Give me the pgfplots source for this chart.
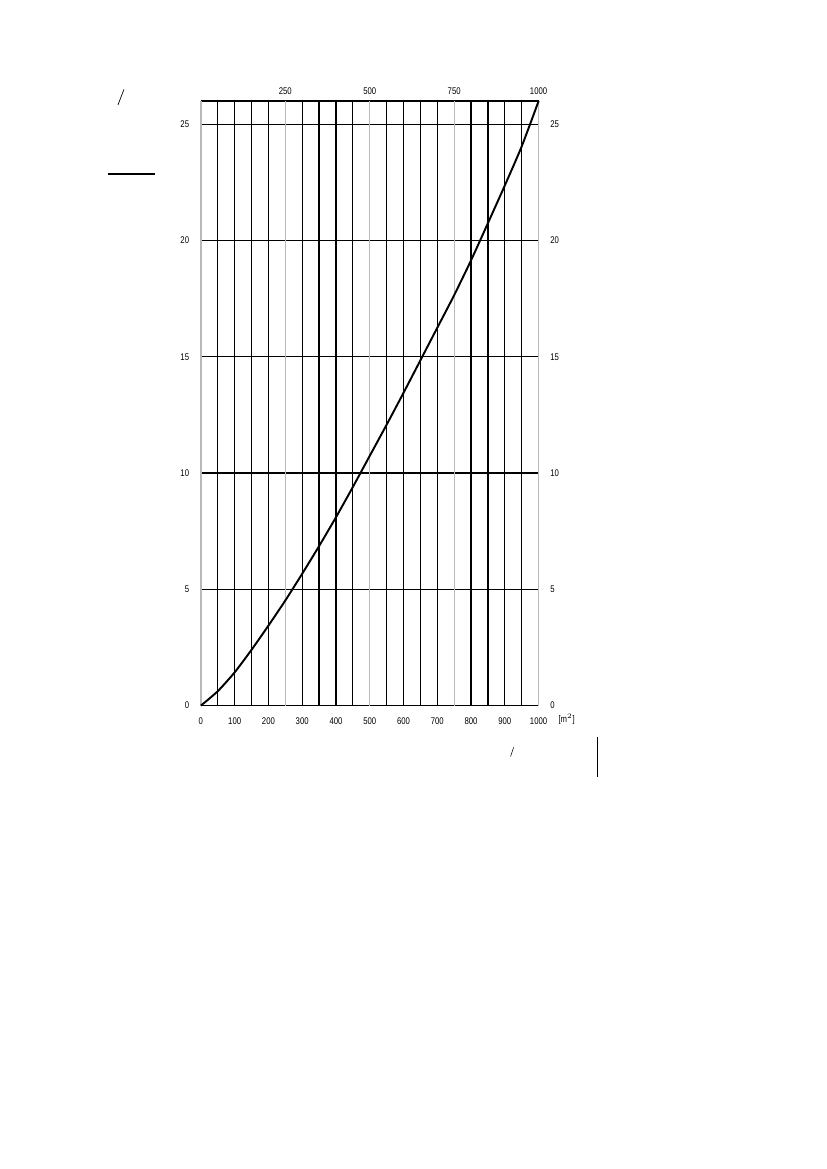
\documentclass[border=0pt]{standalone}
\usepackage{fontspec}
\setmainfont{Liberation Sans}[FakeStretch=0.8]
\usepackage{pgfplots}
\pgfplotsset{compat=1.18}

% curve
\pgfplotstableread{
x     y
0     0
50    0.62
100   1.43
150   2.40
200   3.44
250   4.52
300   5.67
350   6.86
400   8.10
450   9.40
500   10.74
550   12.08
600   13.45
650   14.85
700   16.25
750   17.65
800   19.15
850   20.75
900   22.37
950   24.05
1000  26.0
}\curve

\pgfplotsset{
  base/.style={
    scale only axis,
    width=85.8mm, height=153.6mm,
    xmin=0, xmax=1000, ymin=0, ymax=26,
    major tick length=0pt, minor tick length=0pt,
    tick label style={font=\fontsize{7}{8}\selectfont},
    /pgf/number format/assume math mode=true,
    /pgf/number format/1000 sep={},
  },
}

\begin{document}
\begin{tikzpicture}
\useasboundingbox (0,-297mm) rectangle (210mm,0);

\begin{axis}[base,
    at={(51.04mm,-179.26mm)}, anchor=south west,
    separate axis lines,
    x axis line style={black, line width=0.9pt},
    y axis line style={gray!55, line width=0.9pt},
    xtick={0,100,...,1000},
    ytick={0,5,...,25},
    minor xtick={50,100,150,200,300,350,400,450,550,600,650,700,800,850,900,950},
    xminorgrids=true, ymajorgrids=true,
    minor grid style={black, line width=0.9pt},
    major grid style={black, line width=0.9pt},
    extra x ticks={0,250,500,750,1000},
    extra x tick labels={},
    extra x tick style={xmajorgrids=true, major grid style={gray!55, line width=0.9pt}},
    xticklabel style={yshift=-5bp},
    yticklabel style={xshift=-5bp},
    clip=false,
  ]
  \addplot[black, line width=1.4pt, smooth, tension=0.4] table[x=x, y=y] {\curve};
  \node[font=\fontsize{7}{8}\selectfont, anchor=center] at (axis cs:1083,-0.6) {[m$^2$]};
  % stray marks of the original sheet
  \draw[black, line width=0.5pt] (axis cs:-245.6,25.83) -- (axis cs:-227.8,26.5);
  \draw[black, line width=1pt] (axis cs:-275,22.86) -- (axis cs:-136,22.86);
  \draw[black, line width=0.4pt] (axis cs:917,-2.19) -- (axis cs:926,-1.80);
  \draw[black, line width=1pt] (axis cs:1174.6,-1.33) -- (axis cs:1174.6,-3.05);
\end{axis}

\begin{axis}[base,
    at={(51.04mm,-179.26mm)}, anchor=south west,
    axis x line*=top, axis y line*=right,
    axis line style={draw=none},
    xtick={250,500,750,1000},
    ytick={0,5,...,25},
    xticklabel style={yshift=1bp},
    yticklabel style={xshift=5bp},
  ]
\end{axis}
\end{tikzpicture}
\end{document}
